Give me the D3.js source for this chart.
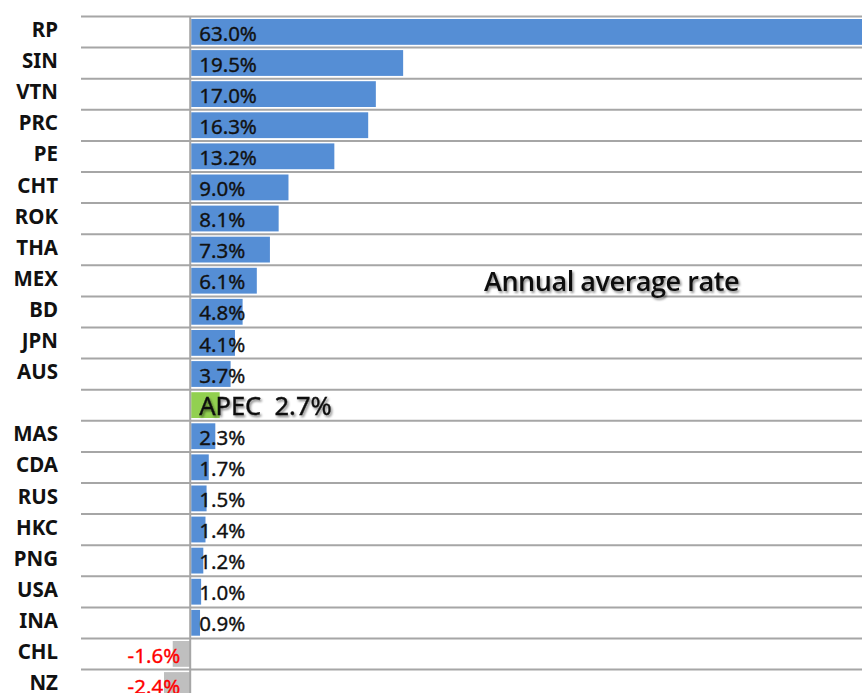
<!DOCTYPE html>
<html>
<head>
<meta charset="utf-8">
<script src="https://cdn.jsdelivr.net/npm/d3@7"></script>
<style>
  html, body { margin: 0; padding: 0; background: #fff; }
  svg { display: block; }
</style>
</head>
<body>
<div id="chart"></div>
<script>
// ---- data ----
const categories = ["RP","SIN","VTN","PRC","PE","CHT","ROK","THA","MEX","BD","JPN","AUS","APEC","MAS","CDA","RUS","HKC","PNG","USA","INA","CHL","NZ"];
const values = [63.0,19.5,17.0,16.3,13.2,9.0,8.1,7.3,6.1,4.8,4.1,3.7,2.7,2.3,1.7,1.5,1.4,1.2,1.0,0.9,-1.6,-2.4];
const annotation = "Annual average rate";
const averageName = "APEC";

const W = 862, H = 693;
const svg = d3.select("#chart").append("svg").attr("width", W).attr("height", H);

const defs = svg.append("defs");
const f = defs.append("filter").attr("id", "shadow").attr("x", "-10%").attr("y", "-30%").attr("width", "130%").attr("height", "180%");
f.append("feDropShadow").attr("dx", 1.5).attr("dy", 2).attr("stdDeviation", 1.3)
  .attr("flood-color", "#000").attr("flood-opacity", 0.45);

const x = d3.scaleLinear().domain([-10, 70]).range([81, 954.6]);
const y = d3.scaleBand().domain(categories).range([16.5, 16.5 + 22 * 31.1]).padding(0);

const fmt = v => d3.format(".1f")(v).replace("\u2212", "-") + "%";
const data = categories.map((c, i) => ({ cat: c, v: values[i] }));

// horizontal gridlines at row boundaries
const bounds = categories.map(c => y(c)).concat([y.range()[1]]);
svg.append("g").selectAll("line").data(bounds).join("line")
  .attr("x1", x(-10)).attr("x2", W)
  .attr("y1", d => d).attr("y2", d => d)
  .attr("stroke", "#a6a6a6").attr("stroke-width", 2);

// bars
const barPadTop = 2.5, barFrac = 0.83;
svg.append("g").selectAll("rect").data(data).join("rect")
  .attr("x", d => d.v >= 0 ? x(0) + 1 : x(d.v))
  .attr("width", d => Math.abs(x(d.v) - x(0)) - (d.v >= 0 ? 1 : 0))
  .attr("y", d => y(d.cat) + barPadTop)
  .attr("height", y.bandwidth() * barFrac)
  .attr("fill", d => d.cat === averageName ? "#92d050" : (d.v < 0 ? "#bfbfbf" : "#558ed5"));

// zero line
svg.append("line")
  .attr("x1", x(0)).attr("x2", x(0))
  .attr("y1", y.range()[0]).attr("y2", y.range()[1])
  .attr("stroke", "#a6a6a6").attr("stroke-width", 2);

// category labels
svg.append("g").selectAll("text").data(data.filter(d => d.cat !== averageName)).join("text")
  .attr("x", 58)
  .attr("y", d => y(d.cat) + y.bandwidth() / 2 + 5)
  .attr("text-anchor", "end")
  .attr("font-family", "'Noto Sans', sans-serif")
  .attr("font-weight", "bold")
  .attr("font-size", 20.5)
  .attr("letter-spacing", 0)
  .attr("fill", "#111")
  .text(d => d.cat);

// value labels
svg.append("g").selectAll("text").data(data.filter(d => d.cat !== averageName)).join("text")
  .attr("x", d => d.v >= 0 ? x(0) + 9 : x(0) - 10)
  .attr("y", d => y(d.cat) + y.bandwidth() / 2 + 8.5)
  .attr("text-anchor", d => d.v >= 0 ? "start" : "end")
  .attr("font-family", "'Noto Sans', sans-serif")
  .attr("font-size", 20.5)
  .attr("fill", d => d.v < 0 ? "#ff0000" : "#111")
  .attr("stroke", d => d.v < 0 ? "#ff0000" : "#111")
  .attr("stroke-width", 0.35)
  .text(d => fmt(d.v));

// APEC label
const apec = data.find(d => d.cat === averageName);
svg.append("text")
  .attr("x", x(0) + 9)
  .attr("y", y(apec.cat) + y.bandwidth() / 2 + 10)
  .attr("font-family", "'Noto Sans', sans-serif")
  .attr("font-size", 25.5)
  .attr("fill", "#111")
  .attr("stroke", "#111")
  .attr("stroke-width", 0.4)
  .attr("filter", "url(#shadow)")
  .style("white-space", "pre")
  .text(averageName + "  " + fmt(apec.v));

// annotation
svg.append("text")
  .attr("x", 484)
  .attr("y", y("MEX") + y.bandwidth() / 2 + 10)
  .attr("font-family", "'Open Sans', 'Noto Sans', sans-serif")
  .attr("font-weight", 600)
  .attr("font-size", 27)
  .attr("letter-spacing", -0.45)
  .attr("fill", "#111")
  .attr("filter", "url(#shadow)")
  .text(annotation);
</script>
</body>
</html>
